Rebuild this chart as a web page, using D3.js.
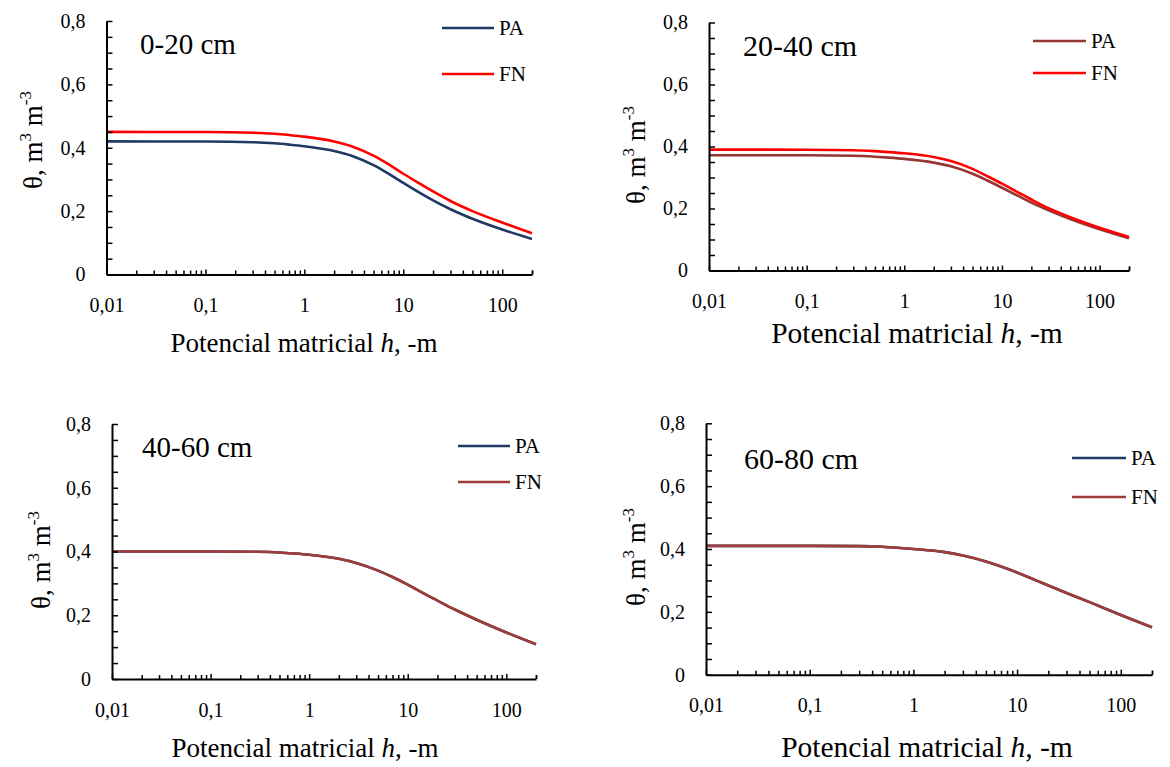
<!DOCTYPE html>
<html>
<head>
<meta charset="utf-8">
<script src="https://cdn.jsdelivr.net/npm/d3@7"></script>
<style>
  html, body { margin: 0; padding: 0; background: #ffffff; }
  svg { display: block; }
  text { font-family: "Liberation Serif", "Times New Roman", serif; fill: #000; }
</style>
</head>
<body>
<script>
// Matric potential h (-m) at which each retention curve is sampled
const hValues = [0.01, 0.1, 0.3, 0.5, 0.7, 1, 2, 3, 5, 7, 10, 15, 20, 30, 50, 100, 200];

// Volumetric water content θ (m3 m-3) for each soil layer
const pa_0_20  = [0.420, 0.4195, 0.4175, 0.414, 0.410, 0.405, 0.390, 0.375, 0.345, 0.319, 0.289, 0.256, 0.234, 0.206, 0.176, 0.142, 0.112];
const fn_0_20  = [0.450, 0.4495, 0.4475, 0.444, 0.440, 0.435, 0.420, 0.405, 0.375, 0.349, 0.318, 0.285, 0.262, 0.232, 0.200, 0.164, 0.130];
const pa_20_40 = [0.372, 0.3716, 0.370, 0.367, 0.364, 0.360, 0.348, 0.336, 0.312, 0.291, 0.267, 0.239, 0.219, 0.194, 0.166, 0.133, 0.104];
const fn_20_40 = [0.390, 0.3896, 0.388, 0.385, 0.382, 0.378, 0.366, 0.353, 0.328, 0.305, 0.280, 0.250, 0.229, 0.201, 0.172, 0.138, 0.108];
const pa_40_60 = [0.400, 0.400, 0.399, 0.397, 0.394, 0.390, 0.377, 0.364, 0.340, 0.320, 0.296, 0.266, 0.246, 0.218, 0.186, 0.146, 0.109];
const fn_40_60 = [0.400, 0.400, 0.399, 0.397, 0.394, 0.390, 0.377, 0.364, 0.340, 0.320, 0.296, 0.266, 0.246, 0.218, 0.186, 0.146, 0.109];
const pa_60_80 = [0.410, 0.410, 0.409, 0.407, 0.404, 0.400, 0.390, 0.379, 0.360, 0.344, 0.325, 0.301, 0.284, 0.260, 0.231, 0.190, 0.151];
const fn_60_80 = [0.410, 0.410, 0.409, 0.407, 0.404, 0.400, 0.390, 0.379, 0.360, 0.344, 0.325, 0.301, 0.284, 0.260, 0.231, 0.190, 0.151];

const depthLabels = ["0-20 cm", "20-40 cm", "40-60 cm", "60-80 cm"];
const seriesNames = ["PA", "FN"];
const layerSeries = [
  [pa_0_20, fn_0_20],
  [pa_20_40, fn_20_40],
  [pa_40_60, fn_40_60],
  [pa_60_80, fn_60_80]
];

// Axis ticks
const xTickValues = [0.01, 0.1, 1, 10, 100];
const xTickLabels = ["0,01", "0,1", "1", "10", "100"];
const yTickValues = [0, 0.2, 0.4, 0.6, 0.8];
const yTickLabels = ["0", "0,2", "0,4", "0,6", "0,8"];
const xDomain = [0.01, 200];
const yDomain = [0, 0.8];

// Panel geometry and styling
const panels = [
  { left: 106.5, right: 532, top: 21, bottom: 274.5,
    colors: ["#1f3864", "#ff0000"],
    legX: [442, 494], legY: [28, 74],
    labelX: 140, labelY: 54, labelSize: 29,
    xTitleX: 304, xTitleY: 352, xTitleSize: 27, yTitleX: 42, yTitleY: 140 },
  { left: 709, right: 1129, top: 22.5, bottom: 270.5,
    colors: ["#953735", "#ff0000"],
    legX: [1033, 1086], legY: [41, 73],
    labelX: 743, labelY: 56, labelSize: 30,
    xTitleX: 917, xTitleY: 343, xTitleSize: 29.5, yTitleX: 645, yTitleY: 155 },
  { left: 112, right: 536, top: 424, bottom: 679,
    colors: ["#1f3864", "#a03c3a"],
    legX: [458, 510], legY: [446, 482],
    labelX: 142, labelY: 457, labelSize: 29,
    xTitleX: 305, xTitleY: 757, xTitleSize: 27, yTitleX: 50, yTitleY: 560 },
  { left: 706, right: 1152, top: 423.3, bottom: 674.7,
    colors: ["#1f3864", "#a03c3a"],
    legX: [1072, 1126], legY: [458, 497],
    labelX: 744, labelY: 469, labelSize: 30,
    xTitleX: 927, xTitleY: 757, xTitleSize: 29.5, yTitleX: 645, yTitleY: 557 }
];

const svg = d3.select("body").append("svg")
  .attr("width", 1170)
  .attr("height", 767);

// Minor ticks on the log axis: 2..9 times each decade, plus the axis end
const xMinor = [];
[0.01, 0.1, 1, 10, 100].forEach(d => {
  for (let k = 2; k <= 9; k++) { const v = d * k; if (v <= 200) xMinor.push(v); }
});
xMinor.push(200);
const yMinor = d3.range(0, 17).map(i => +(i * 0.05).toFixed(2));

panels.forEach((p, i) => {
  const g = svg.append("g");
  const x = d3.scaleLog().domain(xDomain).range([p.left, p.right]);
  const y = d3.scaleLinear().domain(yDomain).range([p.bottom, p.top]);

  // retention curves
  const line = d3.line()
    .x(d => x(d.h))
    .y(d => y(d.v))
    .curve(d3.curveMonotoneX);

  layerSeries[i].forEach((vals, s) => {
    const pts = hValues.map((h, k) => ({ h: h, v: vals[k] }));
    g.append("path")
      .datum(pts)
      .attr("d", line)
      .attr("fill", "none")
      .attr("stroke", p.colors[s])
      .attr("stroke-width", 2.6);
  });

  // y axis: inward ticks every 0.05
  const yAxisTicks = g.append("g")
    .attr("transform", `translate(${p.left},0)`)
    .call(d3.axisLeft(y).tickValues(yMinor).tickSize(-6).tickSizeOuter(0).tickFormat(""));
  yAxisTicks.selectAll(".tick line").attr("stroke", "#000").attr("stroke-width", 1.5);
  yAxisTicks.select(".domain").attr("stroke", "#000").attr("stroke-width", 2);

  const yAxisLabels = g.append("g")
    .attr("transform", `translate(${p.left},0)`)
    .call(d3.axisLeft(y).tickValues(yTickValues).tickSize(0).tickPadding(21)
      .tickFormat((d, k) => yTickLabels[k]));
  yAxisLabels.select(".domain").remove();
  yAxisLabels.selectAll("text")
    .attr("font-size", 20)
    .attr("font-family", "Liberation Serif, serif")
    .attr("fill", "#222");

  // x axis: inward ticks at each decade and its multiples
  const xAxisMinor = g.append("g")
    .attr("transform", `translate(0,${p.bottom})`)
    .call(d3.axisBottom(x).tickValues(xMinor).tickSize(-4).tickSizeOuter(0).tickFormat(""));
  xAxisMinor.selectAll(".tick line").attr("stroke", "#000").attr("stroke-width", 1.5);
  xAxisMinor.select(".domain").attr("stroke", "#000").attr("stroke-width", 2);

  const xAxisMajor = g.append("g")
    .attr("transform", `translate(0,${p.bottom})`)
    .call(d3.axisBottom(x).tickValues(xTickValues).tickSize(-5).tickSizeOuter(0)
      .tickFormat((d, k) => xTickLabels[k]));
  xAxisMajor.select(".domain").remove();
  xAxisMajor.selectAll(".tick line").attr("stroke", "#000").attr("stroke-width", 1.5);
  xAxisMajor.selectAll("text")
    .attr("y", 37.5)
    .attr("dy", 0)
    .attr("font-size", 20)
    .attr("font-family", "Liberation Serif, serif")
    .attr("fill", "#222");

  // depth label
  g.append("text")
    .attr("x", p.labelX)
    .attr("y", p.labelY)
    .attr("font-size", p.labelSize)
    .text(depthLabels[i]);

  // axis titles
  const xt = g.append("text")
    .attr("x", p.xTitleX)
    .attr("y", p.xTitleY)
    .attr("text-anchor", "middle")
    .attr("font-size", p.xTitleSize);
  xt.append("tspan").text("Potencial matricial ");
  xt.append("tspan").attr("font-style", "italic").text("h");
  xt.append("tspan").text(", -m");

  const yt = g.append("text")
    .attr("transform", `translate(${p.yTitleX},${p.yTitleY}) rotate(-90)`)
    .attr("text-anchor", "middle")
    .attr("font-size", 27);
  yt.append("tspan").text("θ, m");
  yt.append("tspan").attr("font-size", 17).attr("dy", -11).text("3");
  yt.append("tspan").attr("dy", 11).text(" m");
  yt.append("tspan").attr("font-size", 17).attr("dy", -11).text("-3");

  // legend
  seriesNames.forEach((name, s) => {
    g.append("line")
      .attr("x1", p.legX[0]).attr("x2", p.legX[1])
      .attr("y1", p.legY[s]).attr("y2", p.legY[s])
      .attr("stroke", p.colors[s])
      .attr("stroke-width", 2.6);
    g.append("text")
      .attr("x", p.legX[1] + 5)
      .attr("y", p.legY[s] + 7)
      .attr("font-size", 21)
      .text(name);
  });
});
</script>
</body>
</html>
